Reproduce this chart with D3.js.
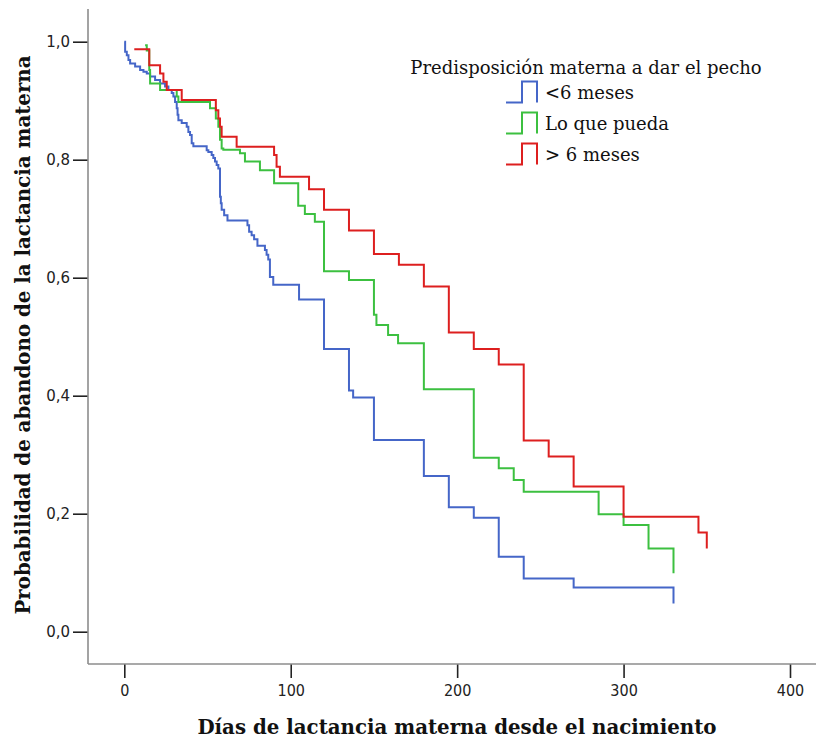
<!DOCTYPE html>
<html>
<head>
<meta charset="utf-8">
<script src="https://cdn.jsdelivr.net/npm/d3@7"></script>
<style>
  html, body { margin: 0; padding: 0; background: #ffffff; }
  svg { display: block; }
</style>
</head>
<body>
<svg id="chart" width="816" height="744"></svg>
<script>
// Kaplan–Meier style step curves: [day, probability after the step]
const groupLabels = ["<6 meses", "Lo que pueda", "> 6 meses"];
const groupColors = ["#4566c8", "#3cc040", "#dd1f1f"];

const menosDeSeis = [
  [0, 1.0], [0.5, 0.983], [1.5, 0.977], [2.5, 0.969], [3.5, 0.963], [6.5, 0.958],
  [9.5, 0.952], [11.5, 0.949], [13.5, 0.946], [15.5, 0.941], [18.5, 0.935],
  [21.5, 0.929], [24.5, 0.924], [26.5, 0.918], [28.5, 0.913], [29.5, 0.907],
  [30.5, 0.898], [31.5, 0.887], [32, 0.876], [32.5, 0.867], [34.5, 0.862],
  [37.5, 0.856], [38.5, 0.847], [39.5, 0.842], [40.5, 0.828], [41.5, 0.823],
  [49.5, 0.816], [50.5, 0.813], [52.5, 0.808], [53.5, 0.803], [54.5, 0.797],
  [55.5, 0.791], [56.5, 0.785], [57.5, 0.737], [58, 0.726], [58.5, 0.715],
  [60, 0.706], [62, 0.697], [74, 0.689], [75, 0.678], [76.5, 0.672], [78, 0.665],
  [80, 0.654], [84.5, 0.647], [85.5, 0.639], [86.5, 0.631], [87.5, 0.601],
  [89.5, 0.588], [105, 0.563], [120, 0.479], [135, 0.409], [137.5, 0.397],
  [150, 0.325], [180, 0.264], [195, 0.211], [210, 0.193], [225, 0.127],
  [240, 0.090], [270, 0.075], [330, 0.048]
];

const loQuePueda = [
  [12.5, 0.994], [13.5, 0.985], [15, 0.952], [15.5, 0.929], [21.5, 0.918],
  [31.5, 0.907], [32.5, 0.898], [51.5, 0.887], [55, 0.870], [56.5, 0.856],
  [57.5, 0.834], [58.5, 0.819], [59.5, 0.817], [69.5, 0.811], [72.5, 0.797],
  [81.5, 0.782], [90, 0.760], [104.5, 0.722], [108.5, 0.708], [114.5, 0.695],
  [120, 0.611], [135, 0.596], [150, 0.537], [151.5, 0.520], [158.5, 0.503],
  [164.5, 0.489], [180, 0.411], [210, 0.295], [225, 0.277], [234, 0.257],
  [240, 0.237], [285, 0.199], [300, 0.181], [315, 0.141], [330, 0.099]
];

const masDeSeis = [
  [6, 0.987], [15, 0.960], [21.5, 0.946], [23.5, 0.932], [25.5, 0.918],
  [34.5, 0.901], [55, 0.884], [56.5, 0.870], [57.5, 0.856], [58.5, 0.839],
  [67.5, 0.822], [90, 0.808], [91.5, 0.788], [93.5, 0.771], [111, 0.750],
  [120, 0.715], [135, 0.680], [150, 0.640], [165, 0.622], [180, 0.585],
  [195, 0.507], [210, 0.479], [225, 0.453], [240, 0.324], [255, 0.297],
  [270, 0.246], [300, 0.195], [345, 0.168], [350, 0.141]
];

const xTicks = [0, 100, 200, 300, 400];
const yTicks = [0, 0.2, 0.4, 0.6, 0.8, 1.0];

const xTitle = "Días de lactancia materna desde el nacimiento";
const yTitle = "Probabilidad de abandono de la lactancia materna";
const legendTitle = "Predisposición materna a dar el pecho";

const series = [menosDeSeis, loQuePueda, masDeSeis];

const svg = d3.select("#chart");

// plot frame: left axis line and bottom axis line
const frame = { left: 88, top: 9, bottom: 664, right: 816 };

const x = d3.scaleLinear().domain([0, 400]).range([124.3, 790]);
const y = d3.scaleLinear().domain([0, 1]).range([631.7, 41.7]);

const axisColor = "#8c8c8c";
const tickColor = "#222";

// y axis
const yAxis = svg.append("g")
  .attr("transform", `translate(${frame.left},0)`)
  .call(d3.axisLeft(y).tickValues(yTicks).tickSize(15).tickPadding(3)
    .tickFormat(d => d3.format(".1f")(d).replace(".", ",")));
yAxis.select(".domain").remove();
yAxis.selectAll(".tick line").attr("stroke", tickColor).attr("stroke-width", 1.6);
yAxis.selectAll(".tick text")
  .attr("fill", "#222")
  .style("font-family", "'DejaVu Sans', sans-serif")
  .style("font-size", "15px");

svg.append("line")
  .attr("x1", frame.left).attr("x2", frame.left)
  .attr("y1", frame.top).attr("y2", frame.bottom)
  .attr("stroke", axisColor).attr("stroke-width", 1.6);

// x axis
const xAxis = svg.append("g")
  .attr("transform", `translate(0,${frame.bottom})`)
  .call(d3.axisBottom(x).tickValues(xTicks).tickSize(14).tickPadding(7));
xAxis.select(".domain").remove();
xAxis.selectAll(".tick line").attr("stroke", tickColor).attr("stroke-width", 1.6);
xAxis.selectAll(".tick text")
  .attr("fill", "#222")
  .style("font-family", "'DejaVu Sans Condensed', 'DejaVu Sans', sans-serif")
  .style("font-size", "16px");

svg.append("line")
  .attr("x1", frame.left).attr("x2", frame.right)
  .attr("y1", frame.bottom).attr("y2", frame.bottom)
  .attr("stroke", axisColor).attr("stroke-width", 1.6);

// step curves
const line = d3.line()
  .x(d => x(d[0]))
  .y(d => y(d[1]))
  .curve(d3.curveStepAfter);

svg.append("g")
  .selectAll("path")
  .data(series)
  .join("path")
  .attr("d", d => line(d))
  .attr("fill", "none")
  .attr("stroke", (d, i) => groupColors[i])
  .attr("stroke-width", 2)
  .attr("stroke-linejoin", "miter");

// axis titles
svg.append("text")
  .attr("x", 457).attr("y", 734)
  .attr("text-anchor", "middle")
  .style("font-family", "'DejaVu Serif', serif")
  .style("font-weight", "bold")
  .style("font-size", "19.8px")
  .attr("fill", "#111")
  .text(xTitle);

svg.append("text")
  .attr("transform", "translate(30,335) rotate(-90)")
  .attr("text-anchor", "middle")
  .style("font-family", "'DejaVu Serif', serif")
  .style("font-weight", "bold")
  .style("font-size", "19.8px")
  .attr("fill", "#111")
  .text(yTitle);

// legend
const legend = svg.append("g");
legend.append("text")
  .attr("x", 586).attr("y", 74)
  .attr("text-anchor", "middle")
  .style("font-family", "'DejaVu Serif', serif")
  .style("font-size", "18px")
  .attr("fill", "#111")
  .text(legendTitle);

const rows = legend.selectAll("g.row")
  .data(groupLabels)
  .join("g")
  .attr("class", "row")
  .attr("transform", (d, i) => `translate(0,${92 + i * 31})`);

rows.append("path")
  .attr("d", "M506,10.5H522V-10.5H537V10.5")
  .attr("fill", "none")
  .attr("stroke", (d, i) => groupColors[i])
  .attr("stroke-width", 2);

rows.append("text")
  .attr("x", 545).attr("y", 6.5)
  .style("font-family", "'DejaVu Serif', serif")
  .style("font-size", "18px")
  .attr("fill", "#111")
  .text(d => d);
</script>
</body>
</html>
